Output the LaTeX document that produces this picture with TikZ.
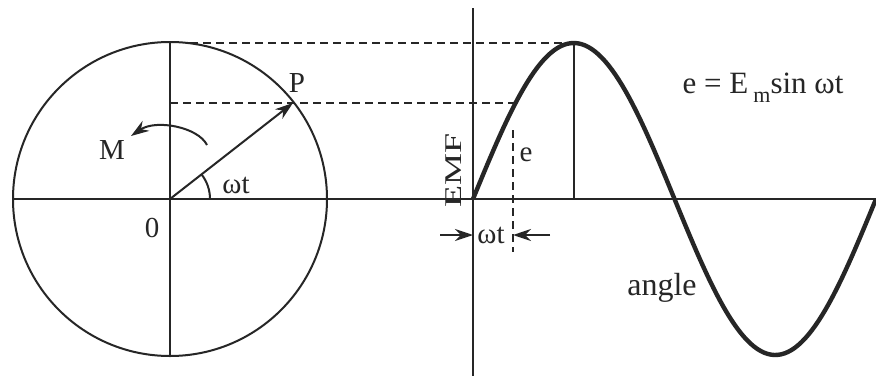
\documentclass[tikz,border=0pt]{standalone}
\usepackage{fontspec}
\setmainfont{Liberation Serif}
\usetikzlibrary{arrows.meta}
\begin{document}
\begin{tikzpicture}[x=0.5pt,y=0.5pt,
  thin line/.style={line width=1pt, draw=black!85},
  dash line/.style={line width=1pt, draw=black!85, dash pattern=on 4pt off 2.5pt},
  wave/.style={line width=2.2pt, draw=black!85, line join=round},
  tip/.style={-{Stealth[length=9pt,width=6pt]}},
  lbl/.style={font=\fontsize{14.5}{16}\selectfont, text=black!85, inner sep=1pt}]
\useasboundingbox (0,0) rectangle (876,376);
\fill[white] (0,0) rectangle (876,376);
% key points
\coordinate (O) at (170,177);
\coordinate (P) at ({170+156*cos(38)},{177+156*sin(38)});
\coordinate (Lend) at (13,177);
\coordinate (Rend) at (876,177);
\coordinate (Ctop) at (170,333);
\coordinate (Cbot) at (170,21);
\coordinate (G0) at (473,177);
\coordinate (Gtop) at (473,368);
\coordinate (Gbot) at (473,0);
\coordinate (Peak) at (573.75,333);
\coordinate (PeakB) at (573.75,177);
\coordinate (D1s) at (190,333);
\coordinate (D2s) at (170,273);
\coordinate (D2e) at (515.5,273);
\coordinate (Vt) at (513,246);
\coordinate (Vb) at (513,124);
% circle and axes
\draw[thin line] (O) circle[radius=157];
\draw[thin line] (Lend) -- (Rend);
\draw[thin line] (Ctop) -- (Cbot);
\draw[thin line] (Gtop) -- (Gbot);
% phasor
\draw[thin line, tip] (O) -- (P);
\draw[thin line] ([shift={(40,0)}]O) arc[start angle=0, end angle=38, radius=40];
% rotation arrow
\draw[thin line, tip] (207,231) .. controls (198,249) and (156,257) .. (131,240);
% dashed projections
\draw[dash line] (D1s) -- (Peak);
\draw[dash line] (D2s) -- (D2e);
\draw[dash line] (Vt) -- (Vb);
% sine wave
\draw[wave] plot[domain=0:360, samples=120] ({473+1.119444*\x},{177+156*sin(\x)});
\draw[thin line] (Peak) -- (PeakB);
% dimension arrows
\coordinate (A1s) at (440,141);
\coordinate (A1e) at (473,141);
\coordinate (A2s) at (550,141);
\coordinate (A2e) at (513,141);
\draw[thin line, tip] (A1s) -- (A1e);
\draw[thin line, tip] (A2s) -- (A2e);
% labels
\node[lbl] (lM) at (112,226) {M};
\node[lbl] (lP) at (297,293) {P};
\node[lbl] (lwt) at (236,191) {ωt};
\node[lbl] (l0) at (152,148) {0};
\node[lbl] (lwt2) at (491,141) {ωt};
\node[lbl] (le) at (526,221) {e};
\node[lbl, font=\fontsize{12}{13}\selectfont, rotate=90] (lemf) at (454,206) {\scalebox{1.5}[1]{EMF}};
\node[lbl, font=\fontsize{16}{18}\selectfont] (langle) at (662,88) {angle};
\node[lbl, font=\fontsize{15.5}{17}\selectfont] (leq) at (763,288) {e = E\,\raisebox{-0.6ex}{\fontsize{11}{12}\selectfont m}sin ωt};
\end{tikzpicture}
\end{document}
